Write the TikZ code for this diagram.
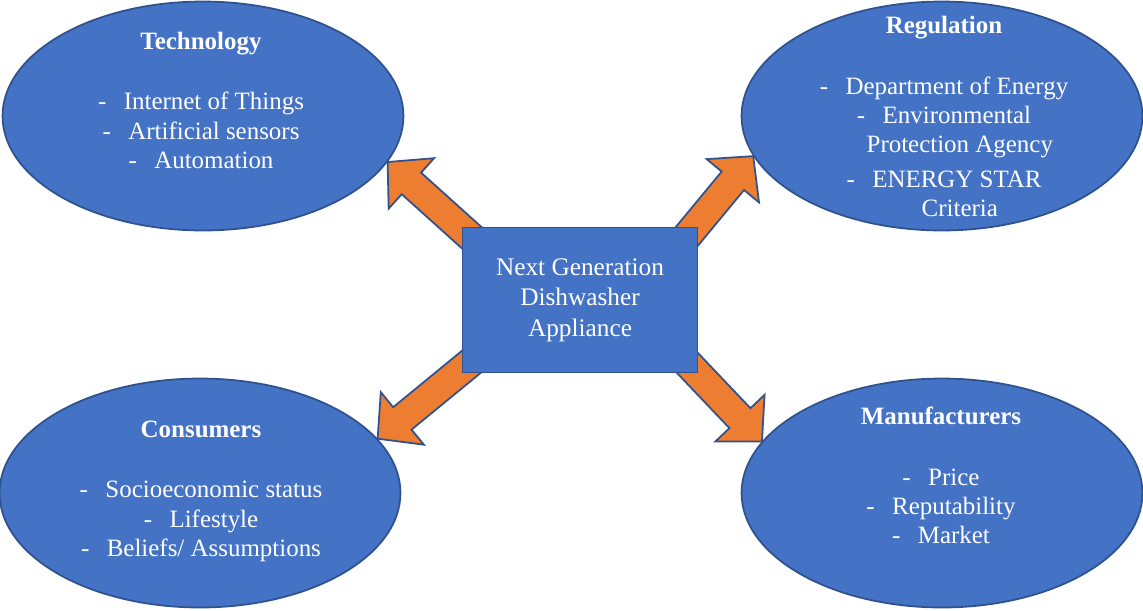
\documentclass[tikz,border=0pt]{standalone}
\usepackage{fontspec}
\setmainfont{LiberationSerif}[Extension=.ttf, UprightFont=*-Regular, BoldFont=*-Bold]
\usetikzlibrary{shapes.geometric,calc,backgrounds}

\definecolor{boxblue}{HTML}{4472C4}
\definecolor{edgeblue}{HTML}{2F528F}
\definecolor{arroworange}{HTML}{ED7D31}

\tikzset{
    bubble/.style={ellipse, draw=edgeblue, fill=boxblue, line width=1pt, minimum width=8.02cm, minimum height=4.58cm, inner sep=0pt},
    bubbletext/.style={text=white, align=center, inner sep=0pt, font=\fontsize{14.2}{16.6}\selectfont},
    hub/.style={rectangle, draw=edgeblue, fill=boxblue, line width=1pt, minimum width=4.7cm, minimum height=2.9cm, text=white, align=center, font=\fontsize{14.4}{17.3}\selectfont},
    arrowbody/.style={draw=edgeblue, fill=arroworange, line width=1pt, line join=miter}
}

\newcommand{\lstdash}{-\hspace{0.7em}}
\newcommand{\blockarrow}[2]{%
    \path ($(#2)!0.64cm!(#1)$) coordinate (head);
    \filldraw[arrowbody] ($(#1)!0.29cm!90:(#2)$) -- ($(head)!0.29cm!90:(#2)$) -- ($(head)!0.68cm!90:(#2)$) -- (#2)
        -- ($(head)!0.68cm!-90:(#2)$) -- ($(head)!0.29cm!-90:(#2)$) -- ($(#1)!0.29cm!-90:(#2)$) -- cycle;
}

\begin{document}
\begin{tikzpicture}[x=0.02cm, y=-0.02cm]
    \useasboundingbox (0, 0) rectangle (1143, 610);

    \node[bubble] (tech) at (203, 116) {};
    \node[bubble] (reg) at (942, 116) {};
    \node[bubble] (cons) at (200, 493) {};
    \node[bubble] (manu) at (942, 493) {};
    \node[hub] (dish) at (580, 300) {Next Generation\\Dishwasher\\Appliance};

    \node[bubbletext] (techtxt) at (201, 100.5) {\textbf{Technology}\\[17.6pt]
        \lstdash Internet of Things\\ \lstdash Artificial sensors\\ \lstdash Automation};
    \node[bubbletext] (regtxt) at (944, 116.5) {\textbf{Regulation}\\[18pt]
        \lstdash Department of Energy\\ \lstdash Environmental\\ \hspace*{18pt}Protection Agency\\[3pt]
        \lstdash ENERGY STAR\\ \hspace*{18pt}Criteria};
    \node[bubbletext] (constxt) at (201, 491.5) {\textbf{Consumers}\\[17.6pt]
        \lstdash Socioeconomic status\\ \lstdash Lifestyle\\ \lstdash Beliefs/ Assumptions};
    \node[bubbletext] (manutxt) at (941, 475.5) {\textbf{Manufacturers}\\[17.6pt]
        \lstdash Price\\ \lstdash Reputability\\ \lstdash Market};

    \begin{scope}[on background layer]
        \coordinate (t1) at ($(dish.north west)+(20, 20)$);
        \coordinate (t2) at ($(dish.north east)+(-20, 20)$);
        \coordinate (t3) at ($(dish.south west)+(20, -20)$);
        \coordinate (t4) at ($(dish.south east)+(-20, -20)$);
        \coordinate (p1) at (tech.346.6);
        \coordinate (p2) at (reg.192);
        \coordinate (p3) at (cons.17);
        \coordinate (p4) at (manu.164.5);
        \blockarrow{t1}{p1}
        \blockarrow{t2}{p2}
        \blockarrow{t3}{p3}
        \blockarrow{t4}{p4}
    \end{scope}
\end{tikzpicture}
\end{document}
